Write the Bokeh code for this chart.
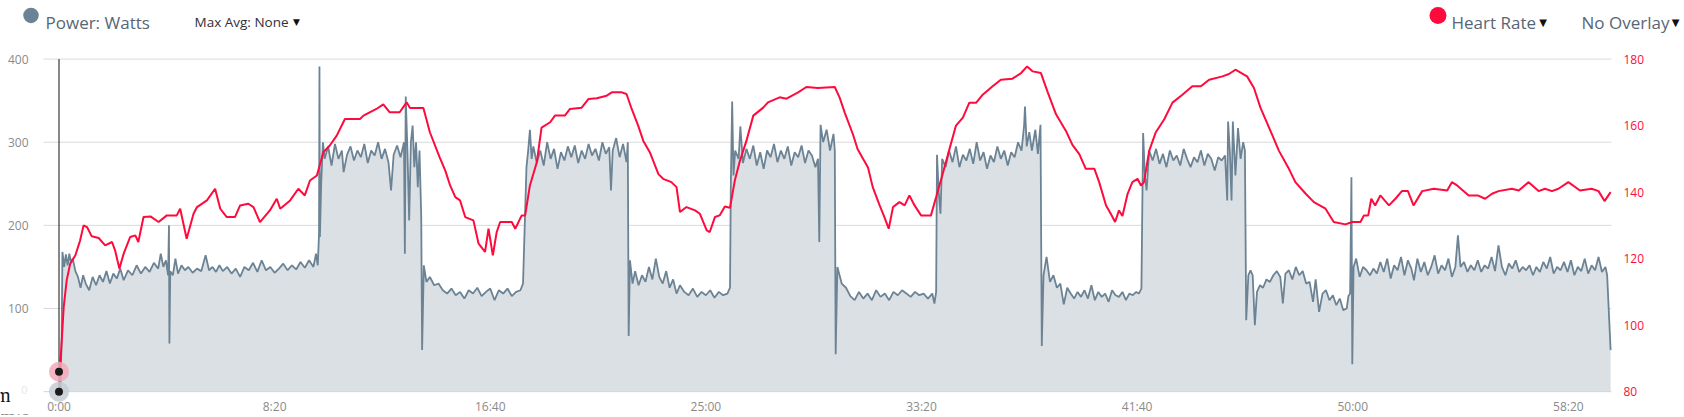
from bokeh.plotting import figure
from bokeh.models import Range1d, LinearAxis, FixedTicker
from bokeh.embed import file_html
from bokeh.resources import INLINE
from bokeh.core.properties import value

# ---------------- data ----------------
power_t = [
    0, 3, 6, 8, 12, 16, 20, 24, 28, 32,
    38, 44, 50, 56, 62, 70, 78, 86, 94, 102,
    110, 118, 126, 134, 142, 150, 160, 170, 180, 190,
    200, 210, 220, 230, 236, 242, 248, 253, 255, 256,
    258, 264, 270, 276, 284, 292, 300, 310, 320, 330,
    340, 348, 356, 364, 372, 380, 390, 400, 410, 420,
    430, 440, 450, 460, 470, 480, 490, 500, 510, 520,
    530, 540, 550, 560, 570, 580, 590, 596, 600, 603,
    604, 605, 608, 612, 616, 624, 632, 640, 648, 656,
    660, 668, 676, 684, 692, 700, 708, 716, 724, 732,
    740, 748, 756, 764, 770, 776, 784, 792, 800, 802,
    804, 808, 812, 816, 820, 824, 828, 832, 836, 840,
    842, 846, 852, 860, 870, 880, 890, 900, 910, 920,
    930, 940, 950, 960, 970, 980, 990, 1000, 1010, 1020,
    1030, 1040, 1050, 1060, 1070, 1076, 1080, 1084, 1088, 1092,
    1096, 1100, 1108, 1116, 1124, 1132, 1140, 1148, 1156, 1164,
    1172, 1180, 1188, 1196, 1204, 1212, 1220, 1228, 1236, 1244,
    1252, 1260, 1268, 1276, 1280, 1284, 1292, 1300, 1308, 1316,
    1319, 1321, 1324, 1330, 1336, 1344, 1352, 1360, 1368, 1376,
    1384, 1392, 1400, 1408, 1416, 1424, 1432, 1440, 1450, 1460,
    1470, 1480, 1490, 1500, 1510, 1520, 1530, 1540, 1550, 1556,
    1558, 1561, 1564, 1568, 1576, 1580, 1586, 1594, 1602, 1610,
    1618, 1626, 1634, 1642, 1650, 1658, 1666, 1674, 1682, 1690,
    1698, 1706, 1714, 1722, 1730, 1738, 1746, 1754, 1760, 1763,
    1766, 1772, 1780, 1788, 1796, 1799, 1801, 1805, 1815, 1825,
    1835, 1845, 1855, 1865, 1875, 1885, 1895, 1905, 1915, 1925,
    1935, 1945, 1955, 1965, 1975, 1985, 1995, 2005, 2015, 2025,
    2030, 2034, 2036, 2040, 2044, 2048, 2056, 2064, 2072, 2080,
    2088, 2096, 2104, 2112, 2120, 2128, 2136, 2144, 2152, 2160,
    2168, 2176, 2184, 2192, 2200, 2208, 2216, 2224, 2232, 2238,
    2240, 2244, 2250, 2256, 2264, 2270, 2276, 2279, 2283, 2290,
    2298, 2306, 2314, 2322, 2330, 2338, 2346, 2354, 2362, 2370,
    2378, 2386, 2394, 2402, 2410, 2418, 2426, 2434, 2442, 2450,
    2458, 2466, 2474, 2482, 2490, 2498, 2504, 2510, 2514, 2518,
    2522, 2528, 2536, 2544, 2552, 2560, 2568, 2576, 2584, 2592,
    2600, 2608, 2616, 2624, 2632, 2640, 2648, 2656, 2664, 2672,
    2680, 2688, 2696, 2704, 2709, 2711, 2715, 2719, 2722, 2728,
    2734, 2740, 2746, 2750, 2753, 2758, 2763, 2768, 2773, 2778,
    2785, 2792, 2800, 2808, 2816, 2824, 2832, 2838, 2844, 2852,
    2860, 2868, 2876, 2884, 2892, 2900, 2908, 2914, 2922, 2930,
    2938, 2946, 2954, 2962, 2970, 2978, 2986, 2990, 2994, 2997,
    2999, 3002, 3008, 3016, 3024, 3032, 3040, 3048, 3056, 3064,
    3072, 3080, 3088, 3096, 3104, 3112, 3120, 3128, 3136, 3142,
    3150, 3158, 3166, 3174, 3182, 3190, 3198, 3206, 3214, 3222,
    3230, 3238, 3244, 3250, 3258, 3266, 3274, 3282, 3290, 3298,
    3306, 3314, 3322, 3330, 3338, 3346, 3354, 3362, 3370, 3378,
    3386, 3394, 3402, 3410, 3418, 3426, 3434, 3442, 3450, 3458,
    3466, 3474, 3482, 3490, 3498, 3506, 3514, 3522, 3530, 3538,
    3546, 3554, 3562, 3570, 3578, 3586, 3590, 3598,
]
power_w = [
    0, 0, 60, 168, 150, 165, 152, 166, 155, 160,
    145, 138, 125, 140, 130, 122, 138, 128, 140, 132,
    145, 130, 142, 136, 148, 134, 146, 140, 152, 142,
    150, 144, 155, 148, 166, 150, 158, 140, 200, 58,
    145, 140, 160, 142, 152, 146, 150, 143, 148, 145,
    164, 146, 150, 144, 152, 145, 150, 142, 148, 138,
    150, 146, 155, 144, 158, 146, 150, 143, 148, 154,
    146, 152, 147, 156, 149, 158, 150, 166, 152, 190,
    391, 186, 250, 300, 280, 295, 272, 298, 280, 290,
    264, 285, 295, 278, 290, 282, 298, 275, 290, 284,
    300, 280, 292, 276, 242, 285, 296, 282, 300, 166,
    355, 290, 206, 300, 320, 270, 300, 246, 290, 210,
    50, 152, 132, 138, 128, 130, 122, 118, 124, 116,
    120, 112, 122, 118, 125, 115, 120, 124, 110, 122,
    118, 124, 115, 120, 122, 130, 200, 270, 290, 315,
    280, 295, 275, 290, 272, 300, 280, 292, 268, 288,
    278, 295, 282, 296, 275, 290, 280, 298, 284, 292,
    278, 300, 286, 294, 242, 290, 305, 282, 298, 276,
    300, 67, 158, 130, 145, 128, 140, 132, 150, 135,
    160, 138, 130, 145, 125, 135, 118, 128, 120, 116,
    124, 114, 120, 116, 122, 113, 120, 116, 118, 125,
    254, 349, 260, 290, 280, 319, 275, 292, 280, 296,
    272, 288, 268, 290, 282, 298, 276, 290, 280, 295,
    272, 288, 282, 296, 275, 290, 284, 270, 280, 180,
    321, 300, 315, 290, 310, 290, 45, 150, 130, 125,
    115, 110, 120, 112, 118, 110, 122, 114, 118, 110,
    120, 116, 122, 118, 114, 120, 116, 118, 112, 118,
    106, 120, 285, 240, 214, 280, 270, 290, 276, 295,
    270, 285, 278, 292, 274, 300, 278, 288, 268, 284,
    276, 295, 280, 290, 272, 288, 282, 300, 290, 320,
    343, 295, 312, 290, 315, 286, 321, 55, 140, 162,
    132, 140, 125, 130, 105, 125, 118, 112, 120, 114,
    122, 112, 128, 110, 120, 114, 118, 108, 122, 116,
    114, 120, 110, 118, 116, 120, 118, 124, 311, 260,
    242, 290, 278, 292, 274, 286, 270, 290, 278, 284,
    272, 292, 280, 270, 282, 276, 290, 272, 286, 280,
    266, 282, 278, 284, 230, 325, 290, 230, 325, 260,
    317, 280, 300, 290, 86, 140, 146, 140, 80, 120,
    128, 125, 135, 132, 140, 145, 138, 106, 142, 146,
    135, 150, 140, 145, 130, 132, 108, 135, 96, 118,
    122, 110, 116, 104, 112, 98, 100, 115, 118, 258,
    33, 150, 160, 138, 150, 146, 140, 148, 142, 156,
    144, 160, 136, 152, 146, 162, 140, 158, 148, 134,
    160, 144, 156, 140, 150, 164, 142, 152, 146, 160,
    138, 150, 188, 150, 156, 144, 152, 146, 158, 144,
    152, 148, 162, 145, 176, 150, 140, 154, 148, 158,
    144, 150, 146, 152, 140, 150, 144, 156, 148, 162,
    142, 150, 146, 156, 144, 158, 140, 150, 145, 160,
    142, 152, 146, 162, 144, 150, 140, 50,
]

hr_t = [
    0, 3, 11, 18, 26, 38, 49, 57, 65, 76,
    92, 107, 123, 130, 140, 150, 165, 177, 184, 196,
    212, 231, 250, 273, 281, 296, 312, 320, 343, 362,
    374, 389, 408, 420, 439, 451, 466, 489, 505, 513,
    536, 555, 570, 582, 598, 613, 628, 644, 663, 698,
    706, 736, 752, 767, 790, 806, 814, 845, 860, 883,
    896, 907, 919, 930, 942, 961, 973, 988, 996, 1006,
    1015, 1023, 1050, 1058, 1073, 1081, 1092, 1108, 1119, 1139,
    1150, 1173, 1185, 1212, 1228, 1247, 1270, 1282, 1305, 1316,
    1328, 1343, 1355, 1370, 1390, 1401, 1420, 1432, 1440, 1455,
    1475, 1486, 1502, 1509, 1521, 1532, 1544, 1556, 1567, 1579,
    1594, 1610, 1633, 1644, 1671, 1687, 1714, 1733, 1760, 1799,
    1810, 1822, 1841, 1852, 1876, 1887, 1903, 1914, 1924, 1934,
    1949, 1961, 1972, 1984, 1999, 2022, 2034, 2049, 2065, 2080,
    2096, 2111, 2127, 2142, 2165, 2184, 2211, 2231, 2245, 2258,
    2277, 2292, 2312, 2335, 2350, 2366, 2381, 2401, 2412, 2428,
    2439, 2449, 2458, 2466, 2478, 2489, 2501, 2509, 2516, 2528,
    2543, 2563, 2582, 2605, 2628, 2648, 2667, 2698, 2713, 2728,
    2755, 2771, 2786, 2806, 2829, 2852, 2867, 2891, 2910, 2937,
    2956, 2983, 2999, 3018, 3026, 3036, 3043, 3052, 3064, 3084,
    3099, 3114, 3128, 3141, 3161, 3188, 3219, 3230, 3242, 3269,
    3290, 3307, 3323, 3338, 3369, 3385, 3408, 3431, 3446, 3462,
    3477, 3500, 3527, 3554, 3570, 3584, 3598,
]
hr_bpm = [
    86, 88, 105.6, 113.6, 118.5, 121, 125.5, 130, 129.5, 126.7,
    126.2, 124, 125, 122.5, 117, 121.5, 126.5, 127, 125, 132.5,
    132.7, 131, 133, 133, 135, 126, 133.5, 135.5, 137.5, 141,
    135, 132.5, 132.5, 136, 136.5, 135.5, 131, 134.5, 138, 135,
    137.5, 141, 139, 143.5, 145, 152, 154, 157, 162, 162,
    163, 165, 166.4, 164, 164, 167, 165.3, 165.3, 158, 150.4,
    146.4, 142, 138.5, 137.5, 132.5, 131.5, 124.5, 122, 129, 121,
    128, 131, 131, 129, 133, 133, 142, 149, 159.4, 161,
    163, 163, 165, 165.4, 168, 168.2, 169, 170, 170, 169.5,
    165, 160, 155.4, 152, 145.4, 144, 143, 141.5, 134, 135.5,
    134.5, 133.5, 128.5, 128, 132.5, 133, 135.7, 135.3, 143.4, 149.4,
    155.4, 163, 165.4, 167, 168.5, 168.1, 170, 171.6, 171.3, 171.6,
    168.5, 163.9, 157.4, 152.9, 147.4, 141.5, 136, 132.5, 129, 135.5,
    137, 136, 139, 136, 133, 133, 138.5, 145.4, 153, 160,
    162.4, 166.9, 166.9, 169.3, 171.8, 173.8, 174.1, 175.8, 177.8, 176.3,
    175.8, 170.3, 163.4, 158.4, 154.2, 151.4, 147, 147, 143, 136,
    133.5, 131, 134.5, 132.8, 139.5, 143, 144, 142, 143, 152.4,
    157.9, 161.9, 166.9, 169.3, 171.8, 171.8, 173.8, 174.8, 175.5, 176.8,
    174.8, 171.3, 165.4, 159.4, 152.4, 147, 143, 139.5, 137, 135,
    131, 130.3, 131, 131, 133, 133, 138, 136, 139, 136,
    138, 140.3, 140.3, 136, 140.3, 141, 140.5, 143, 142, 139,
    139, 138, 139.5, 140.3, 141, 140.5, 143, 140.3, 141, 140.3,
    141, 143, 140.5, 141, 140.3, 137.3, 140,
]

time_ticks = [0, 500, 1000, 1500, 2000, 2500, 3000, 3500]
time_labels = ["0:00", "8:20", "16:40", "25:00", "33:20", "41:40", "50:00", "58:20"]
watt_ticks = [100, 200, 300, 400]
hr_ticks = [80, 100, 120, 140, 160, 180]
cursor_t = 0
cursor_w = 0
cursor_hr = 86

power_label = "Power: Watts"
maxavg_label = "Max Avg: None"
hr_label = "Heart Rate"
overlay_label = "No Overlay"

# ---------------- geometry (page pixels) ----------------
W, H = 1684, 417
T0_PX, PX_PER_S = 58.5, 0.43124      # x position of 0:00, px per second
W0_PX, PX_PER_W = 394.0, 0.8375      # y position of 0 W, px per watt
PX_PER_BPM = 3.35                    # 80..180 bpm spans the same height as 0..400 W
AREA_T0, AREA_T1 = -36, 3600         # plot area edges (s)

POWER_LINE = "#6b8394"
POWER_FILL = "#dbe0e5"
HR_COLOR = "#ff0a3c"
LEG_TEXT = "#566676"
AX_TEXT = "#8a8a8a"
GRID = "#dadada"
BASE = "#ccd6eb"

x_rng = Range1d(-T0_PX / PX_PER_S, (W - T0_PX) / PX_PER_S)
y_rng = Range1d(-(H - W0_PX) / PX_PER_W, W0_PX / PX_PER_W)

p = figure(width=W, height=H, x_range=x_rng, y_range=y_rng,
           output_backend="svg", toolbar_location=None, min_border=0,
           min_border_left=0, min_border_right=0, min_border_top=0, min_border_bottom=0)
if p.title is not None:
    p.title.visible = False
p.extra_y_ranges = {
    "hr": Range1d(80 - (H - W0_PX) / PX_PER_BPM, 80 + W0_PX / PX_PER_BPM),
    "py": Range1d(H, 0),
}
p.extra_x_ranges = {"px": Range1d(0, W)}
p.outline_line_color = None
p.grid.visible = False
p.background_fill_color = "white"

# grid lines and baseline of the plot area
p.segment(x0=AREA_T0, x1=AREA_T1, y0=watt_ticks, y1=watt_ticks, line_color=GRID, line_width=1)

p.varea(x=power_t, y1=0, y2=power_w, fill_color=POWER_FILL)
p.segment(x0=[AREA_T0], x1=[AREA_T1], y0=[0], y1=[0], line_color=BASE, line_width=1)
p.line(power_t, power_w, line_color=POWER_LINE, line_width=1.8)
p.line(hr_t, hr_bpm, y_range_name="hr", line_color=HR_COLOR, line_width=2)

# hover cursor
p.segment(x0=[cursor_t], x1=[cursor_t], y0=[0], y1=[400], line_color="#111111", line_width=1)
p.scatter([cursor_t], [cursor_w], size=20, fill_color="#c6ccd3", line_color=None, fill_alpha=0.85)
p.scatter([cursor_t], [cursor_w], size=8, fill_color="#1b1b1b", line_color=None)
p.scatter([cursor_t], [cursor_hr], y_range_name="hr", size=20, fill_color="#f2a9b7", line_color=None, fill_alpha=0.85)
p.scatter([cursor_t], [cursor_hr], y_range_name="hr", size=8, fill_color="#1b1b1b", line_color=None)


def style_axis(ax, color, standoff):
    ax.axis_line_color = None
    ax.major_tick_out = 0
    ax.major_tick_in = 0
    ax.minor_tick_out = 0
    ax.minor_tick_in = 0
    ax.major_tick_line_color = None
    ax.minor_tick_line_color = None
    ax.major_label_text_color = color
    ax.major_label_text_font = "Open Sans"
    ax.major_label_text_font_size = "12px"
    ax.major_label_standoff = standoff


xa = p.xaxis[0]
xa.ticker = FixedTicker(ticks=time_ticks)
xa.major_label_overrides = {t: l for t, l in zip(time_ticks, time_labels)}
style_axis(xa, AX_TEXT, -17)

ya = p.yaxis[0]
ya.ticker = FixedTicker(ticks=watt_ticks)
style_axis(ya, AX_TEXT, -28)

ra = LinearAxis(y_range_name="hr", ticker=FixedTicker(ticks=hr_ticks))
style_axis(ra, HR_COLOR, -61)
p.add_layout(ra, "right")


def ptext(x, y, text, size, color, font="Open Sans", align="left", baseline="alphabetic"):
    p.text(x=[x], y=[y], text=[text], x_range_name="px", y_range_name="py",
           text_font=value(font), text_font_size=size, text_color=color,
           text_align=align, text_baseline=baseline)


# header
p.scatter(x=[30.5], y=[15], x_range_name="px", y_range_name="py", size=15.5,
          fill_color=POWER_LINE, line_color=None)
ptext(45, 22.5, power_label, "17px", LEG_TEXT)
ptext(194, 21.7, maxavg_label, "13.5px", "#2f2f3a")
ptext(296, 21.7, "\u25bc", "9px", "#111111", font="DejaVu Sans", align="center")
p.scatter(x=[1437.5], y=[15], x_range_name="px", y_range_name="py", size=17,
          fill_color=HR_COLOR, line_color=None)
ptext(1451, 22.5, hr_label, "17px", LEG_TEXT)
ptext(1542.5, 22.5, "\u25bc", "10px", "#111111", font="DejaVu Sans", align="center")
ptext(1581, 22.5, overlay_label, "17px", LEG_TEXT)
ptext(1675, 22.5, "\u25bc", "10px", "#111111", font="DejaVu Sans", align="center")

# faint zero label and cut-off fragments at the far left
ptext(27, 392, "0", "11px", "#e2e9ea", align="right", baseline="middle")
ptext(10, 397, "m", "20px", "#111111", font="Liberation Serif", align="right")
ptext(0, 420, "m:s", "20px", "#111111", font="Liberation Serif")

open("out.html", "w").write(file_html(p, INLINE))
